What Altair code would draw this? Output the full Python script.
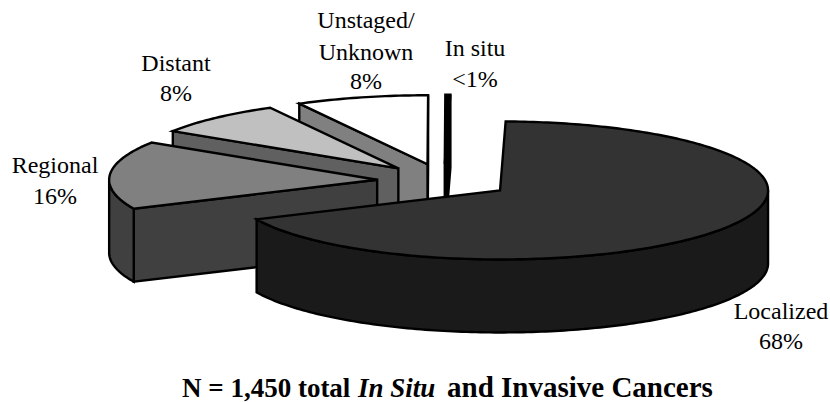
import math
import altair as alt
import pandas as pd

# Cancer stage shares, in the clockwise order of the slices
stages = ["Localized", "Regional", "Distant", "Unstaged/Unknown", "In situ"]
shares = [68, 16, 8, 8, 0.3]
top_colours = ["#333333", "#808080", "#c0c0c0", "#ffffff", "#000000"]
side_colours = ["#1a1a1a", "#404040", "#606060", "#808080", "#000000"]

# Pie geometry on the shared pixel-like scale
W, H = 830, 402
CX, CY = 444, 181
RX, RY = 268, 69
DEPTH = 73
EXPLODE = 0.25
START = 1.2


def rim(cx, cy, t, drop=0):
    a = math.radians(t)
    return (cx + RX * math.sin(a), cy - RY * math.cos(a) + drop)


def sweep(t0, t1, step=1.0):
    n = max(2, int(abs(t1 - t0) / step) + 1)
    return [t0 + (t1 - t0) * i / (n - 1) for i in range(n)]


faces = []
total = sum(shares)
t = START
slices = []
for name, share, top, side in zip(stages, shares, top_colours, side_colours):
    span = share / total * 360
    t0, t1 = t, t + span
    t = t1
    mid = math.radians((t0 + t1) / 2)
    cx = CX + EXPLODE * RX * math.sin(mid)
    cy = CY - EXPLODE * RY * math.cos(mid)
    slices.append((name, t0, t1, cx, cy, top, side))

# Painter's order: the far slices first, the large near slice last
for name, t0, t1, cx, cy, top, side in reversed(slices):
    # Cut face behind the trailing edge
    if math.sin(math.radians(t1)) > 0:
        e = rim(cx, cy, t1)
        faces.append((side, [(cx, cy), e, (e[0], e[1] + DEPTH), (cx, cy + DEPTH)]))
    # Cut face in front of the leading edge
    if math.sin(math.radians(t0)) < 0:
        s = rim(cx, cy, t0)
        faces.append((side, [(cx, cy), s, (s[0], s[1] + DEPTH), (cx, cy + DEPTH)]))
    # Outer wall, wherever the rim faces the viewer
    lo, hi = max(t0, 90), min(t1, 270)
    if hi > lo:
        angles = sweep(lo, hi)
        ring = [rim(cx, cy, a) for a in angles] + [rim(cx, cy, a, DEPTH) for a in reversed(angles)]
        faces.append((side, ring))
    # Top surface
    faces.append((top, [(cx, cy)] + [rim(cx, cy, a) for a in sweep(t0, t1)]))

x_scale = alt.Scale(domain=[0, W], range=[0, W])
y_scale = alt.Scale(domain=[0, H], range=[0, H])

layers = []
for fill, pts in faces:
    df = pd.DataFrame({"x": [p[0] for p in pts], "y": [p[1] for p in pts], "i": range(len(pts))})
    layers.append(
        alt.Chart(df)
        .mark_line(
            interpolate="linear-closed",
            fill=fill,
            stroke="#000000",
            strokeWidth=2.4,
            strokeJoin="miter",
            strokeMiterLimit=4,
        )
        .encode(
            x=alt.X("x:Q", scale=x_scale, axis=None),
            y=alt.Y("y:Q", scale=y_scale, axis=None),
            order="i:Q",
        )
    )

# Stage captions, one row per printed line
captions = pd.DataFrame(
    [
        ("Regional", 55, 173),
        ("16%", 55, 204),
        ("Distant", 176, 71),
        ("8%", 176, 101),
        ("Unstaged/", 366, 28),
        ("Unknown", 366, 60),
        ("8%", 366, 89),
        ("In situ", 475, 56),
        ("<1%", 475, 87),
        ("Localized", 781, 319),
        ("68%", 781, 349),
    ],
    columns=["text", "x", "y"],
)
layers.append(
    alt.Chart(captions)
    .mark_text(font="Liberation Serif", fontSize=24, align="center", baseline="alphabetic", color="#000000")
    .encode(
        x=alt.X("x:Q", scale=x_scale, axis=None),
        y=alt.Y("y:Q", scale=y_scale, axis=None),
        text="text:N",
    )
)

# Bold footer, split so that the middle run can be italic
footer_runs = [
    ("N = 1,450 total", 182, "normal", 27),
    ("In Situ", 358, "italic", 27),
    ("and Invasive Cancers", 447, "normal", 29),
]
for text, x, style, size in footer_runs:
    part = pd.DataFrame({"text": [text], "x": [x], "y": [397]})
    layers.append(
        alt.Chart(part)
        .mark_text(font="Liberation Serif", fontSize=size, fontWeight="bold", fontStyle=style, align="left", baseline="alphabetic", color="#000000")
        .encode(
            x=alt.X("x:Q", scale=x_scale, axis=None),
            y=alt.Y("y:Q", scale=y_scale, axis=None),
            text="text:N",
        )
    )

chart = (
    alt.layer(*layers)
    .properties(width=W, height=H, padding=0, autosize=alt.AutoSizeParams(type="fit", contains="padding"), background="#ffffff")
    .configure_view(stroke=None)
)

chart.save("out.html", embed_options={"renderer": "svg", "actions": False})
